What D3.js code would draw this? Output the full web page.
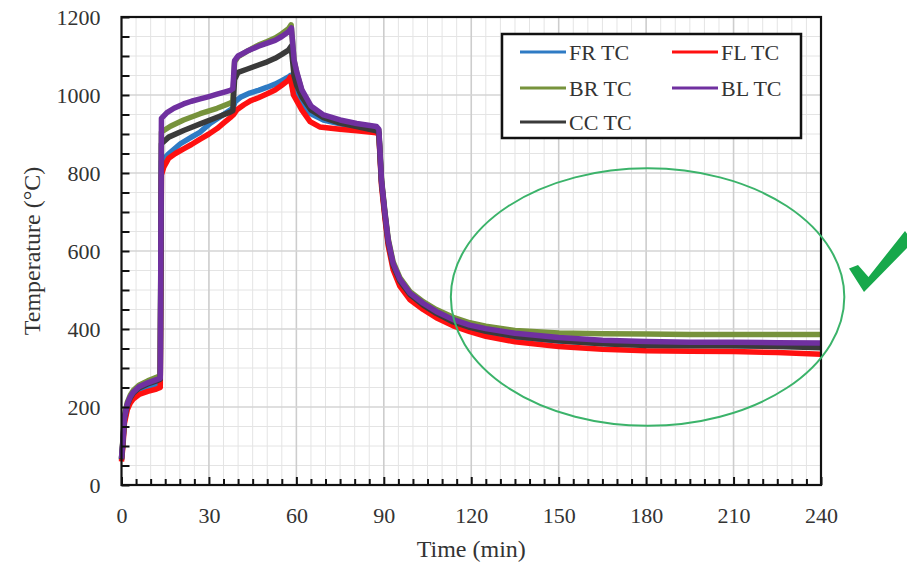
<!DOCTYPE html>
<html>
<head>
<meta charset="utf-8">
<script src="https://cdn.jsdelivr.net/npm/d3@7"></script>
<style>
  html, body { margin: 0; padding: 0; background: #ffffff; }
  svg { display: block; }
  text { font-family: "Liberation Serif", "Times New Roman", serif; fill: #333; }
</style>
</head>
<body>
<svg id="chart" width="907" height="565"></svg>
<script>
// ---------------- data ----------------
const seriesNames = ["FR TC", "FL TC", "BR TC", "BL TC", "CC TC"];
const seriesColors = ["#2e7bc4", "#ff1010", "#77933c", "#7030a0", "#3a3a3a"];

const xTicks = [0, 30, 60, 90, 120, 150, 180, 210, 240];
const yTicks = [0, 200, 400, 600, 800, 1000, 1200];

// [time (min), temperature (°C)]
const FR_TC = [[0,64],[0.5,108],[1,165],[2,200],[3,218],[4,229],[6,242],[9,252],[12,259],[13.3,262],[13.7,830],[16,848],[20.2,875],[24,892],[27,905],[30.5,928],[35,950],[38.2,966],[39,983],[41,995],[44,1005],[47,1012],[50,1020],[52.7,1028],[55,1037],[57.3,1046],[58,1050],[59,1010],[61.9,975],[65,952],[69.3,936],[75,926],[80.7,918],[87.5,909],[88.3,903],[89.2,775],[90.4,690],[91.5,620],[93.2,560],[95.5,520],[99,486],[103.5,460],[108,439],[113.8,417],[119.5,403],[125,392],[135,379],[150,369],[165,363],[180,360],[195,359],[210,358],[225,357],[240,355]];

const FL_TC = [[0,60],[0.5,100],[1,158],[2,193],[3,210],[4,220],[6,232],[9,240],[12,246],[13.3,250],[13.7,795],[14.5,815],[16.2,838],[18.5,850],[21.3,862],[24,873],[27,887],[30,900],[32.8,914],[35,928],[37.3,942],[38.5,950],[39.6,962],[42,975],[44.2,985],[47,993],[50,1003],[52.7,1013],[55,1025],[57.3,1038],[57.9,1046],[59,1000],[61.9,961],[64.7,932],[68,918],[75,912],[80.7,908],[87.5,903],[88.3,898],[89.2,768],[90.4,683],[91.5,614],[93.2,552],[95.5,510],[99,475],[103.5,450],[108,429],[113.8,408],[119.5,393],[125,381],[135,367],[150,355],[165,348],[180,344],[195,343],[210,342],[225,340],[240,335]];

const BR_TC = [[0,70],[0.5,118],[1,176],[2,212],[3,230],[4,242],[6,256],[9,267],[12,276],[13.3,281],[13.7,905],[16.8,920],[21.3,936],[27,952],[32.8,966],[37.3,979],[38.2,983],[38.8,1085],[40,1098],[43,1112],[47,1128],[50,1137],[52.7,1146],[55,1157],[57.3,1170],[58.2,1180],[59.2,1088],[60.1,1058],[61.9,1010],[65,966],[69.3,945],[75,932],[80.7,924],[87.5,916],[88.3,910],[89.2,785],[90.4,700],[91.5,632],[93.2,572],[95.5,532],[99,496],[103.5,470],[108,450],[113.8,430],[119.5,416],[125,407],[135,396],[150,390],[165,388],[180,387],[195,386],[210,386],[225,386],[240,386]];

const BL_TC = [[0,68],[0.5,115],[1,172],[2,208],[3,226],[4,238],[6,252],[9,262],[12,270],[13.3,274],[13.7,940],[15.6,955],[18,966],[21.3,977],[24,984],[27,990],[30,996],[32.8,1002],[35,1007],[37.3,1012],[38.2,1016],[38.8,1088],[40,1100],[43,1112],[47,1125],[50,1133],[52.7,1140],[55,1150],[57.3,1162],[58.3,1172],[59.2,1090],[60.1,1060],[61.9,1013],[65,972],[69.3,949],[75,936],[80.7,927],[87.5,919],[88.3,912],[89.2,782],[90.4,697],[91.5,628],[93.2,568],[95.5,528],[99,492],[103.5,466],[108,445],[113.8,424],[119.5,410],[125,401],[135,389],[150,378],[165,371],[180,368],[195,366],[210,366],[225,365],[240,364]];

const CC_TC = [[0,66],[0.5,112],[1,170],[2,205],[3,223],[4,235],[6,249],[9,259],[12,267],[13.3,271],[13.7,875],[16.2,892],[21.3,909],[27,926],[32.8,943],[37.3,956],[38.2,960],[38.8,1040],[40,1058],[43,1066],[47,1077],[50,1085],[52.7,1094],[55,1104],[57.3,1115],[58.2,1125],[59.2,1050],[60.1,1025],[61.9,995],[65,962],[69.3,942],[75,928],[80.7,919],[87.5,908],[88.3,903],[89.2,778],[90.4,693],[91.5,624],[93.2,563],[95.5,523],[99,488],[103.5,461],[108,440],[113.8,418],[119.5,404],[125,394],[135,381],[150,370],[165,362],[180,358],[195,357],[210,357],[225,355],[240,352]];

const seriesData = [FR_TC, FL_TC, BR_TC, BL_TC, CC_TC];
const drawOrder = [0, 1, 2, 4, 3];

// ---------------- layout ----------------
const svg = d3.select("#chart");
const L = 121.5, R = 821, T = 17, B = 485;
const x = d3.scaleLinear().domain([0, 240]).range([L, R]);
const y = d3.scaleLinear().domain([0, 1200]).range([B, T]);

const xMinor = d3.range(0, 241, 5);
const yMinor = d3.range(0, 1201, 50);

// grid
const grid = svg.append("g");
grid.selectAll("line.vmin").data(xMinor.filter(d => d % 30 !== 0)).join("line")
  .attr("x1", d => x(d)).attr("x2", d => x(d)).attr("y1", T).attr("y2", B)
  .attr("stroke", "#e4e4e4").attr("stroke-width", 1);
grid.selectAll("line.hmin").data(yMinor.filter(d => d % 200 !== 0)).join("line")
  .attr("y1", d => y(d)).attr("y2", d => y(d)).attr("x1", L).attr("x2", R)
  .attr("stroke", "#e4e4e4").attr("stroke-width", 1);
grid.selectAll("line.vmaj").data(xTicks.slice(1, -1)).join("line")
  .attr("x1", d => x(d)).attr("x2", d => x(d)).attr("y1", T).attr("y2", B)
  .attr("stroke", "#cdcdcd").attr("stroke-width", 1.6);
grid.selectAll("line.hmaj").data(yTicks.slice(1, -1)).join("line")
  .attr("y1", d => y(d)).attr("y2", d => y(d)).attr("x1", L).attr("x2", R)
  .attr("stroke", "#d4d4d4").attr("stroke-width", 1.4);

// data lines
const line = d3.line().x(d => x(d[0])).y(d => y(d[1]));
const linesG = svg.append("g");
drawOrder.forEach(i => {
  linesG.append("path")
    .datum(seriesData[i])
    .attr("d", line)
    .attr("fill", "none")
    .attr("stroke", seriesColors[i])
    .attr("stroke-width", 5.5)
    .attr("stroke-linejoin", "round");
});

// axes (ticks inward)
svg.append("g").attr("transform", `translate(0,${B})`)
  .call(d3.axisBottom(x).tickValues(xTicks).tickSize(-8).tickPadding(22).tickFormat(d3.format("d")));
svg.append("g").attr("transform", `translate(0,${B})`)
  .call(d3.axisBottom(x).tickValues(xMinor.filter(d => d % 30 !== 0)).tickSize(-6).tickFormat(""));
svg.append("g").attr("transform", `translate(${L},0)`)
  .call(d3.axisLeft(y).tickValues(yTicks).tickSize(-8).tickPadding(21).tickFormat(d3.format("d")));
svg.append("g").attr("transform", `translate(${L},0)`)
  .call(d3.axisLeft(y).tickValues(yMinor.filter(d => d % 200 !== 0)).tickSize(-8).tickFormat(""));

svg.selectAll(".domain").remove();
svg.selectAll(".tick line").attr("stroke", "#111").attr("stroke-width", 2);
svg.selectAll(".tick text")
  .style("font-family", '"Liberation Serif", "Times New Roman", serif')
  .style("font-size", "22px").attr("fill", "#333");

// frame
svg.append("rect").attr("x", L).attr("y", T).attr("width", R - L).attr("height", B - T)
  .attr("fill", "none").attr("stroke", "#111").attr("stroke-width", 2.2);

// axis titles
svg.append("text").attr("x", x(120)).attr("y", 557).attr("text-anchor", "middle")
  .style("font-size", "24px").text("Time (min)");
svg.append("text").attr("transform", `translate(32,${251}) rotate(-90)`)
  .attr("text-anchor", "middle").attr("dominant-baseline", "central")
  .style("font-size", "24px").text("Temperature (°C)");

// legend
const lg = svg.append("g");
lg.append("rect").attr("x", 502).attr("y", 34).attr("width", 299).attr("height", 104)
  .attr("fill", "#fff").attr("stroke", "#111").attr("stroke-width", 2.5);
const legPos = [[520, 52], [672, 52], [520, 88], [672, 88], [520, 122]];
seriesNames.forEach((n, i) => {
  const [lx, ly] = legPos[i];
  lg.append("line").attr("x1", lx).attr("x2", lx + 46).attr("y1", ly).attr("y2", ly)
    .attr("stroke", seriesColors[i]).attr("stroke-width", 3);
  lg.append("text").attr("x", lx + 49).attr("y", ly).attr("dominant-baseline", "central")
    .style("font-size", "22px").text(n);
});

// highlight ellipse (in data units)
svg.append("ellipse")
  .attr("cx", x(180.5)).attr("cy", y(482))
  .attr("rx", x(67.5) - x(0)).attr("ry", y(0) - y(330))
  .attr("fill", "none").attr("stroke", "#3bb36a").attr("stroke-width", 2);

// check mark
svg.append("path")
  .attr("d", "M849,268.5 L858,265 L868.5,277 L905,231 L908,235 L908,247 L864,292 Z")
  .attr("fill", "#17a84b");
</script>
</body>
</html>
